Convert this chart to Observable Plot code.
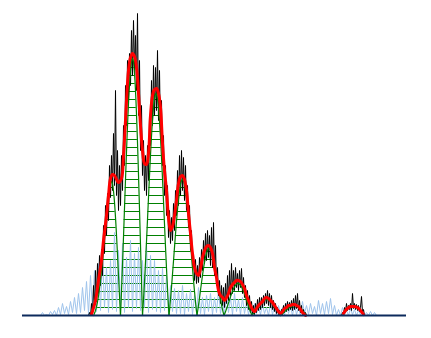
<!DOCTYPE html>
<html><head><meta charset="utf-8">
<script src="https://cdn.jsdelivr.net/npm/d3@7"></script>
<script src="https://cdn.jsdelivr.net/npm/@observablehq/plot@0.6"></script>
<style>body{margin:0;background:#fff}svg{display:block}</style>
</head><body><div id="chart"></div>
<script>
// Fitted curve (red), two segments
const redX = [91,95,98,101,103,106,108,110,112,114,118,121,123,125,126,128,130,132,134,136,138,140,142,144,146,148,150,152,154,156,158,160,162,164,166,168,170,172,174,176,178,180,182,184,186,188,190,192,194,196,198,200,202,204,206,208,210,212,214,216,218,220,222,224,226,228,230,232,234,236,238,240,242,244,246,248,250,252,254,256,258,260,262,264,266,268,270,272,274,276,278,280,282,284,286,288,290,292,294,296,298,300,302,305];
const redY = [1,15,35,55,75,100,120,137,141,140,133,137,160,195,215,245,258,262,259,248,222,190,165,152,151,162,200,220,226,227,222,208,172,145,125,98,85,89,100,115,132,139,140,136,125,102,82,62,48,42,40,47,58,65,69,70,68,62,48,38,25,20,18,15,18,22,28,31,33,35,35,34,31,27,20,15,10,6,4,7,10,12,14,17,18,17,15,13,10,7,4,2,4,7,8,10,10,11,11,10,9,6,3,0];
const red2X = [343,345,347,350,352,354,357,360,363];
const red2Y = [2,5,7,9,9,9,8,5,1];

// Measured signal (black), one value per unit of x
const blackStart = 88;
const blackY = [0,3,0,12,2,30,8,45,14,52,
22,60,30,66,40,90,62,110,80,122,
95,150,118,160,125,182,130,225,120,165,
105,150,110,160,125,190,150,230,190,255,
215,262,230,285,240,295,245,280,225,302,
200,255,165,210,140,175,125,160,120,170,
135,200,170,235,190,250,200,248,205,265,
195,245,180,215,150,180,120,150,100,130,
78,105,72,98,75,112,85,125,100,145,
110,160,120,165,125,158,115,150,105,130,
88,110,65,85,48,62,35,56,32,50,
33,58,38,66,45,75,52,82,55,85,
58,80,50,88,48,93,40,70,30,48,
20,35,12,30,10,28,8,32,12,40,
15,45,20,52,22,45,25,48,28,42,
25,45,28,47,22,38,18,30,10,25,
6,20,3,14,2,10,1,12,3,16,
5,18,6,18,8,20,10,22,12,25,
10,22,8,20,6,15,4,12,2,8,
1,5,0,6,1,10,3,12,4,14,
5,13,6,15,5,17,6,20,7,22,
5,15,3,10,1,6,0,3,0];
const black2Start = 341;
const black2Y = [0,3,0,8,4,12,5,10,6,12,5,22,7,12,6,11,5,10,4,8,19,3,6,0];

// Background / residual trace (light blue), one value every 2 units of x
const blueStart = 40, blueStep = 2;
const blueY = [0,3,0,1,0,4,1,5,0,8,
1,12,2,9,1,14,3,18,2,22,
3,28,5,34,2,40,6,45,4,52,
5,60,8,48,3,55,6,83,4,65,
6,72,3,58,8,75,4,62,7,68,
5,55,8,72,3,60,6,55,4,45,
3,47,5,40,2,30,4,27,2,25,
2,30,1,22,4,26,1,20,3,28,
2,18,1,20,4,22,1,18,3,25,
2,15,1,20,3,18,1,22,4,16,
1,18,2,12,1,10,0,12,2,9,
1,11,2,8,0,12,1,9,0,10,
2,8,0,12,2,9,0,11,1,8,
0,14,2,10,1,12,2,9,0,15,
2,12,1,14,2,17,1,10,0,6,
0,8,1,5,0,7,1,6,0,5,
1,4,0,3,0,4,0,3,0,0];

// Fit components (green): centre, amplitude, width, left / right limits
const compCenter = [111,132,155.5,182,208.5,237.5,266,294,352.5];
const compAmp    = [134,257,222,136,67,32,16,10,10];
const compSigma  = [7,8,8,8.5,8.5,9,10,10,11];
const compLo     = [93,120,142,168.5,196.5,223.5,251.5,280,342.5];
const compHi     = [120,142,168.5,196.5,223.5,251.5,280,306,363];
const levelStep = 8;

const red = redX.map((x,i)=>({x, y:redY[i], seg:0}))
  .concat(red2X.map((x,i)=>({x, y:red2Y[i], seg:1})));
const black = blackY.map((y,i)=>({x:blackStart+i, y, seg:0}))
  .concat(black2Y.map((y,i)=>({x:black2Start+i, y, seg:1})));
const blue = blueY.map((y,i)=>({x:blueStart+i*blueStep, y}));

// each component is a gaussian lowered so that it meets zero at its limits
const g = (k, x) => Math.exp(-0.5*((x-compCenter[k])/compSigma[k])**2);
const edge = (k, side) => g(k, side < 0 ? compLo[k] : compHi[k]);
const comp = (k, x) => {
  const gb = edge(k, x < compCenter[k] ? -1 : 1);
  return compAmp[k]*Math.max(0, (g(k,x)-gb)/(1-gb));
};
const greenCurve = [];
const hatch = [];
compCenter.forEach((c,k)=>{
  const lo = compLo[k], hi = compHi[k];
  for (let x = lo; x <= hi + 1e-9; x += 0.5) greenCurve.push({x, y:comp(k,x), k});
  for (let L = levelStep; L < compAmp[k]; L += levelStep) {
    const r = L/compAmp[k];
    const w = side => {
      const gb = edge(k, side);
      return compSigma[k]*Math.sqrt(-2*Math.log(r*(1-gb)+gb));
    };
    hatch.push({y:L, x1:c - w(-1), x2:c + w(1)});
  }
});

const chart = Plot.plot({
  width: 431, height: 338,
  marginLeft: 22, marginRight: 25, marginTop: 15, marginBottom: 23,
  x: {domain:[22,406], axis:null},
  y: {domain:[0,300], axis:null},
  marks: [
    Plot.ruleY(hatch, {y:"y", x1:"x1", x2:"x2", stroke:"green", strokeWidth:1}),
    Plot.line(blue, {x:"x", y:"y", stroke:"#9fc4ec", strokeWidth:1}),
    Plot.line(black, {x:"x", y:"y", z:"seg", stroke:"black", strokeWidth:1}),
    Plot.line(greenCurve, {x:"x", y:"y", z:"k", stroke:"green", strokeWidth:1.2}),
    Plot.line(red, {x:"x", y:"y", z:"seg", stroke:"red", strokeWidth:3, curve:"catmull-rom"}),
    Plot.ruleY([0], {stroke:"#0c2a5c", strokeWidth:2})
  ]
});
document.getElementById("chart").appendChild(chart);
</script>
</body></html>
